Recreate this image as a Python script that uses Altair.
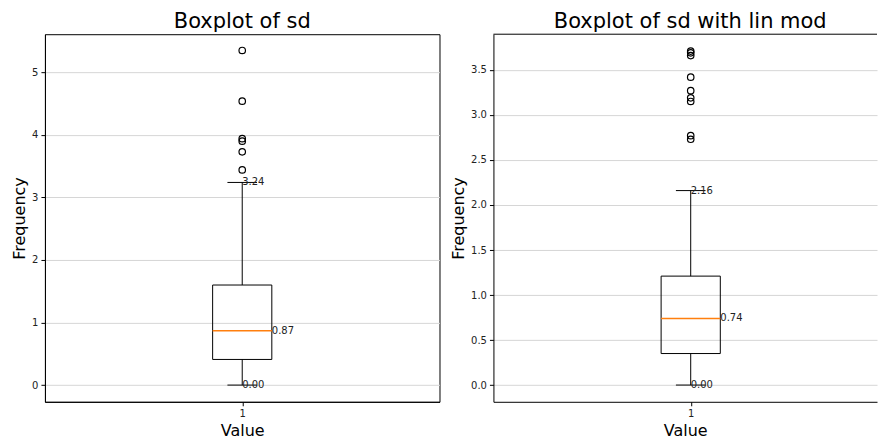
import altair as alt
import pandas as pd

# ---- data ----
panel_titles = ["Boxplot of sd", "Boxplot of sd with lin mod"]
category = [1]
# whisker low, Q1, median, Q3, whisker high
sd_box = [0.00, 0.41, 0.87, 1.60, 3.24]
sd_outliers = [5.35, 4.54, 3.94, 3.90, 3.73, 3.44]
lin_box = [0.00, 0.35, 0.74, 1.21, 2.16]
lin_outliers = [3.71, 3.69, 3.66, 3.42, 3.27, 3.19, 3.15, 2.77, 2.73]

sd_ticks = [0, 1, 2, 3, 4, 5]
lin_ticks = [0.0, 0.5, 1.0, 1.5, 2.0, 2.5, 3.0, 3.5]

FONT = "DejaVu Sans"
HALF_BOX = 0.075
HALF_CAP = 0.0375


def panel(box, outliers, title, ydomain, yticks, yfmt, width, xdomain, full_frame, title_dx):
    stats = pd.DataFrame({
        "pos": category, "lo": [box[0]], "q1": [box[1]], "med": [box[2]],
        "q3": [box[3]], "hi": [box[4]],
    })
    xscale = alt.Scale(domain=xdomain, nice=False, zero=False)
    yscale = alt.Scale(domain=ydomain, nice=False, zero=False)
    xaxis = alt.Axis(values=category, format="d", title="Value", grid=False)
    yaxis = alt.Axis(values=yticks, format=yfmt, title="Frequency", grid=True)

    def X(f):
        return alt.X(f, type="quantitative", scale=xscale, axis=xaxis)

    def Y(f):
        return alt.Y(f, type="quantitative", scale=yscale, axis=yaxis)

    base = alt.Chart(stats).transform_calculate(
        b0=f"datum.pos - {HALF_BOX}", b1=f"datum.pos + {HALF_BOX}",
        c0=f"datum.pos - {HALF_CAP}", c1=f"datum.pos + {HALF_CAP}",
    )

    upper = base.mark_rule(color="black", strokeWidth=1).encode(x=X("pos"), y=Y("q3"), y2="hi:Q")
    lower = base.mark_rule(color="black", strokeWidth=1).encode(x=X("pos"), y=Y("lo"), y2="q1:Q")
    cap_hi = base.mark_rule(color="black", strokeWidth=1).encode(x=X("c0"), x2="c1:Q", y=Y("hi"))
    cap_lo = base.mark_rule(color="black", strokeWidth=1).encode(x=X("c0"), x2="c1:Q", y=Y("lo"))
    rect = base.mark_rect(fill="white", fillOpacity=0, stroke="black", strokeWidth=1).encode(
        x=X("b0"), x2="b1:Q", y=Y("q1"), y2="q3:Q")
    median = base.mark_rule(color="#ff7f0e", strokeWidth=1.5).encode(
        x=X("b0"), x2="b1:Q", y=Y("med"))

    out_df = pd.DataFrame({"pos": category * len(outliers), "v": outliers})
    pts = alt.Chart(out_df).mark_point(shape="circle", filled=False, color="black",
                                       size=42, strokeWidth=1.2, opacity=1).encode(
        x=X("pos"), y=Y("v"))

    lab_df = pd.DataFrame({
        "pos": category * 3,
        "v": [box[4], box[2], box[0]],
        "kind": ["whisker", "median", "whisker"],
    })
    labels = alt.Chart(lab_df).transform_calculate(
        lx=f"datum.kind == 'median' ? datum.pos + {HALF_BOX} : datum.pos",
        txt="format(datum.v, '.2f')",
    ).mark_text(align="left", baseline="middle", font=FONT, fontSize=10, color="#222").encode(
        x=X("lx"), y=Y("v"), text="txt:N")

    layers = [rect, upper, lower, cap_hi, cap_lo, median, pts, labels]
    if not full_frame:
        top = alt.Chart(stats).mark_rule(color="black", strokeWidth=1).encode(
            x=alt.value(0), x2=alt.value(width), y=alt.value(0))
        layers.append(top)

    ch = alt.layer(*layers).properties(
        width=width, height=368,
        title=alt.TitleParams(title, fontSize=21, font=FONT, fontWeight="normal",
                              anchor="middle", frame="group", offset=2, dx=title_dx,
                              color="black"),
        view=alt.ViewBackground(stroke="black" if full_frame else None, strokeWidth=1),
    )
    return ch


left = panel(sd_box, sd_outliers, panel_titles[0], [-0.267, 5.61], sd_ticks, "d",
             395, [0.5, 1.5], True, 0)
right = panel(lin_box, lin_outliers, panel_titles[1], [-0.186, 3.897], lin_ticks, ".1f",
              384, [0.5, 0.5 + 384 / 395], False, 5)

chart = alt.hconcat(left, right, spacing=10).properties(
    padding={"left": 11, "top": 10, "right": 0, "bottom": 0}
).configure_view(stroke=None).configure_axis(
    labelFont=FONT, labelFontSize=10, labelColor="#222",
    titleFont=FONT, titleFontSize=16, titleFontWeight="normal", titleColor="black",
    tickColor="black", tickSize=4, labelPadding=3, titlePadding=4,
    domainColor="black", domainWidth=1, gridColor="#d6d6d6", gridWidth=1,
)

chart.save("out.html", embed_options={"renderer": "svg", "actions": False})
